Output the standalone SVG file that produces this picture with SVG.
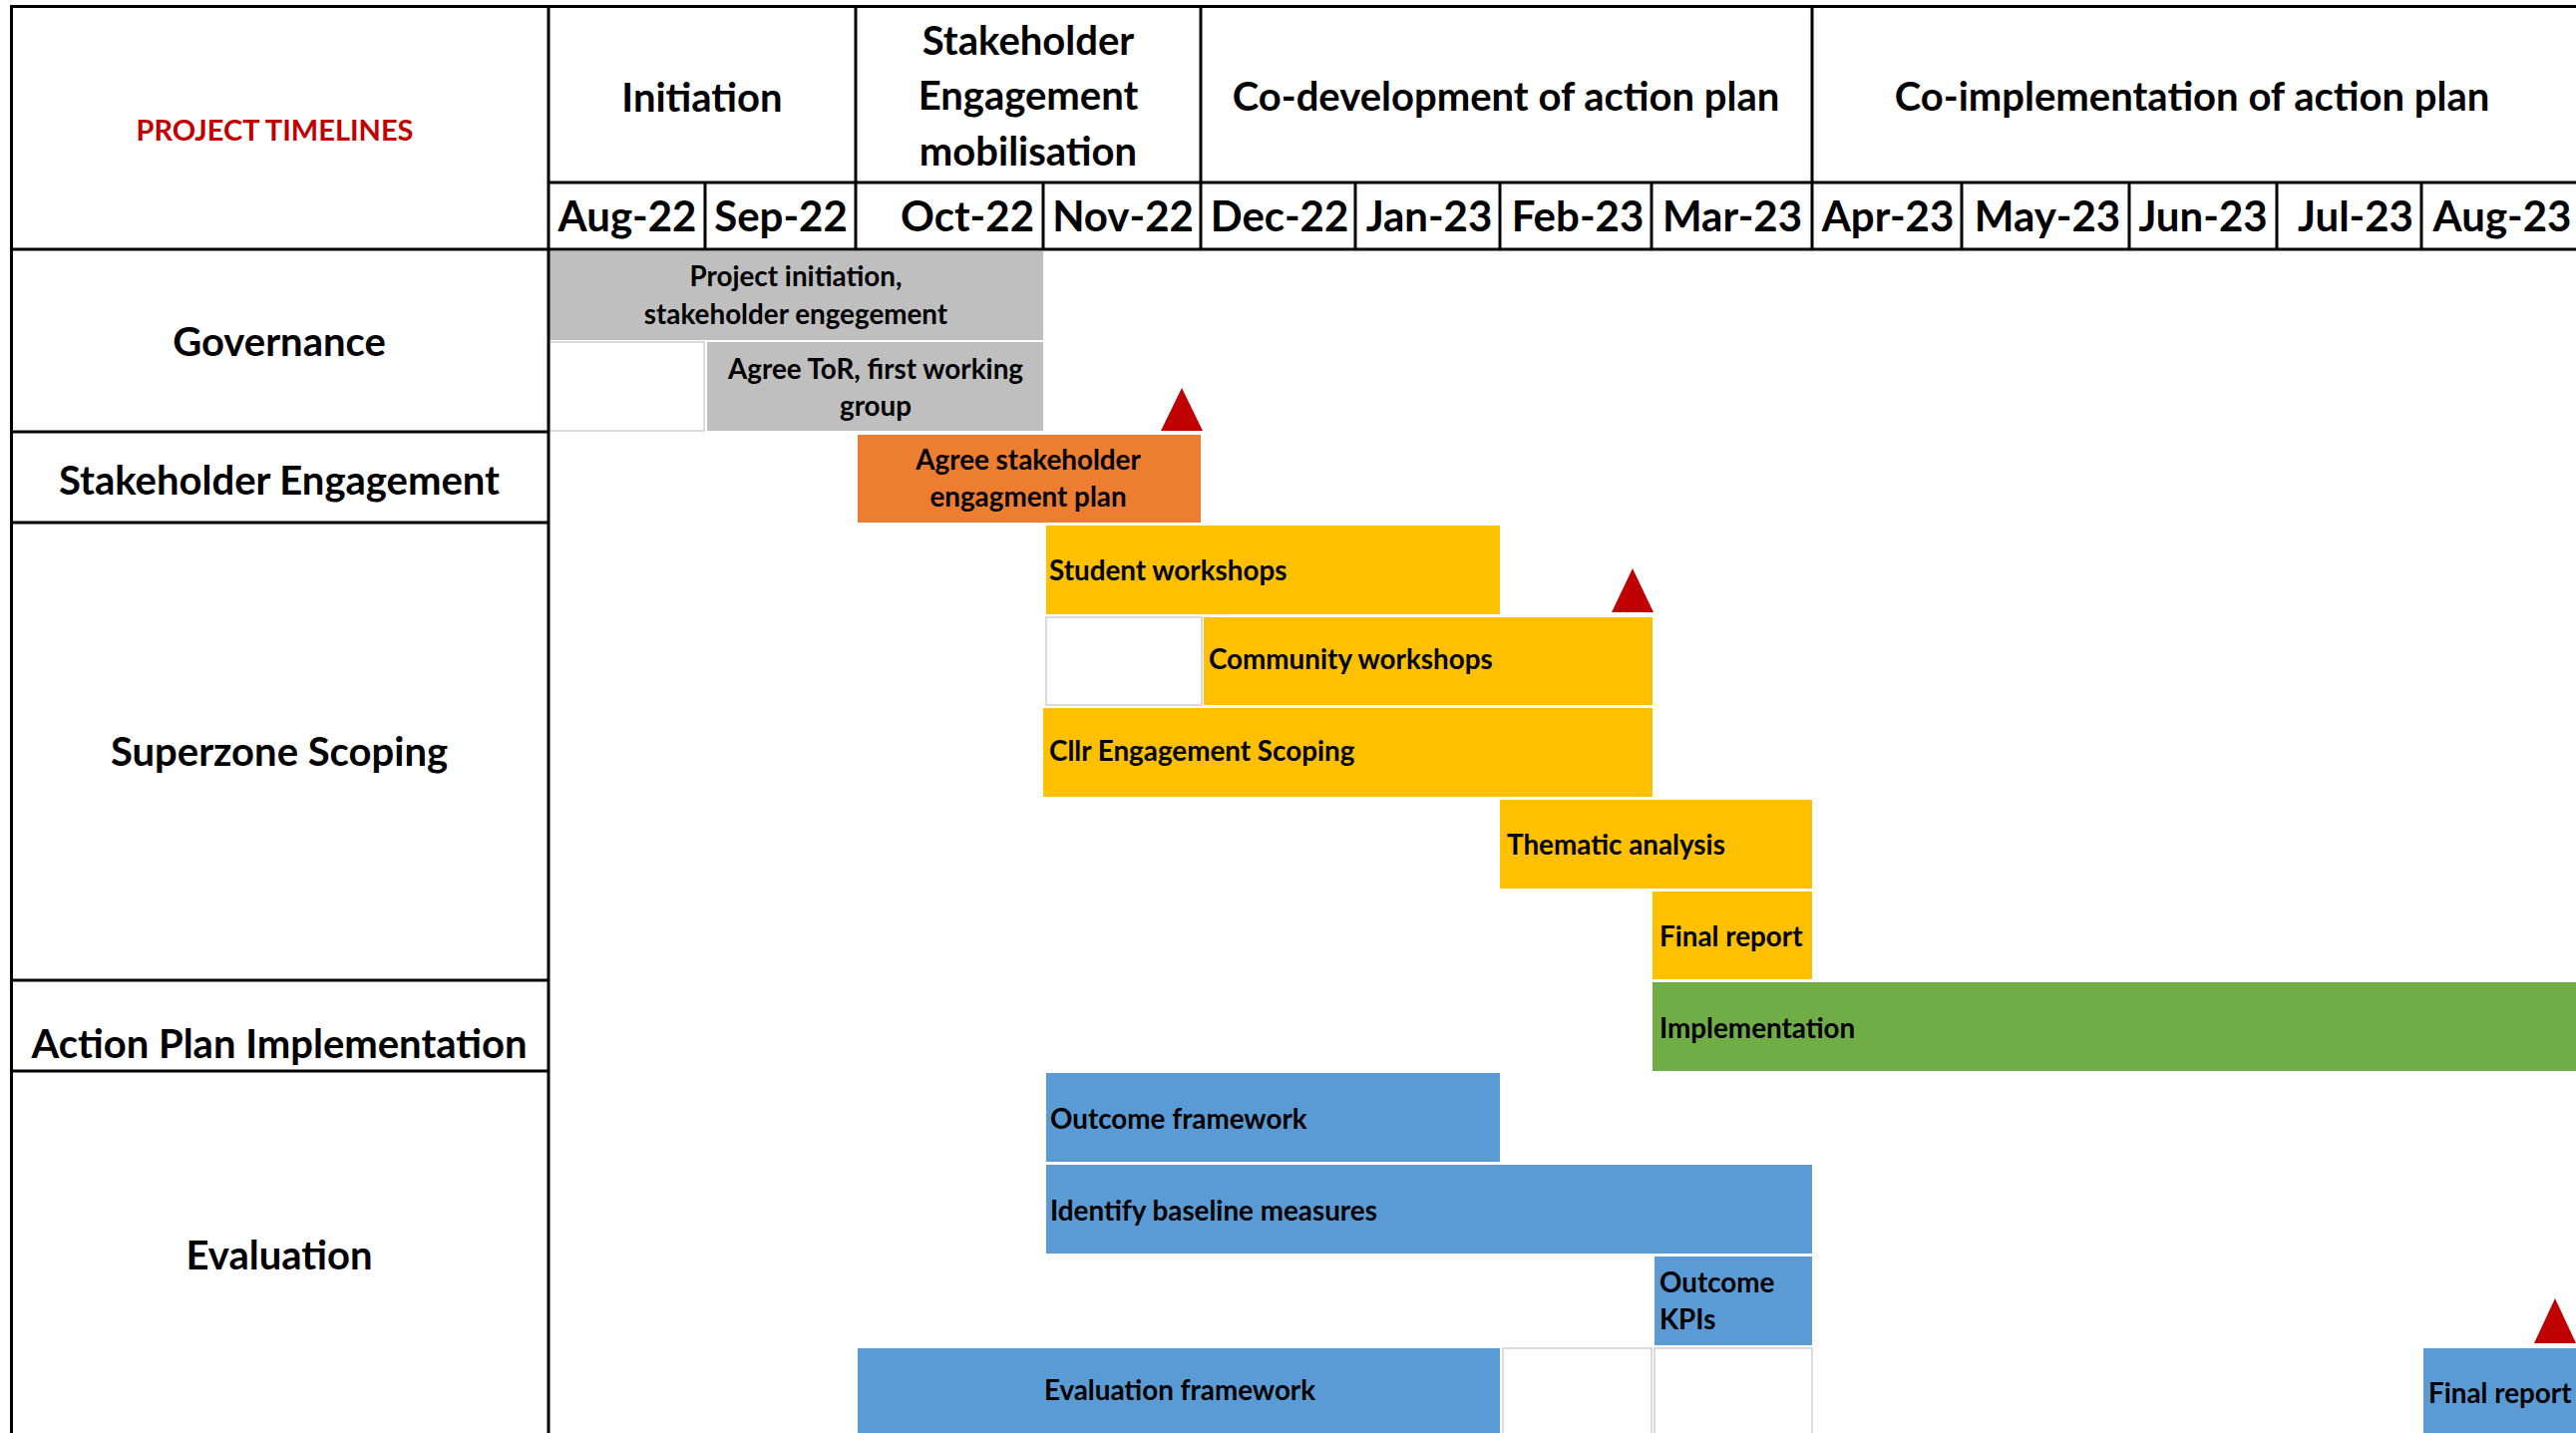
<svg xmlns="http://www.w3.org/2000/svg" width="2583" height="1437" viewBox="0 0 2583 1437">
<style>
text{font-family:Lato,"Liberation Sans",sans-serif;font-weight:bold;fill:#000}
.ph{font-size:40px;text-anchor:middle}
.mo{font-size:42px;text-anchor:middle}
.rl{font-size:40px;text-anchor:middle}
.bl{font-size:27.8px}
.bc{font-size:27.8px;text-anchor:middle}
.ttl{font-size:29px;text-anchor:middle;fill:#C00000}
.grid line{stroke:#000;stroke-width:3}
.gray{fill:#BFBFBF}.orange{fill:#ED7D31}.yellow{fill:#FFC000}.green{fill:#70AD47}.blue{fill:#5B9BD5}
.empty{fill:#fff;stroke:#D0D0D0;stroke-width:1.5}
.ms{fill:#C00000}
</style>
<rect width="2583" height="1437" fill="#fff"/>

<!-- empty cells -->
<g id="empty-cells">
<rect class="empty" x="551" y="343" width="155" height="89"/>
<rect class="empty" x="1049" y="619" width="156" height="88"/>
<rect class="empty" x="1507" y="1352" width="149" height="90"/>
<rect class="empty" x="1659" y="1352" width="158" height="90"/>
</g>

<!-- bars -->
<g id="bar-project-initiation"><rect class="gray" x="551" y="252" width="495" height="89"/>
<text class="bc" x="798" y="287">Project initiation,</text><text class="bc" x="798" y="325">stakeholder engegement</text></g>
<g id="bar-agree-tor"><rect class="gray" x="709" y="343" width="337" height="89"/>
<text class="bc" x="878" y="380">Agree ToR, first working</text><text class="bc" x="878" y="417">group</text></g>
<g id="bar-agree-stakeholder"><rect class="orange" x="860" y="436" width="344" height="88"/>
<text class="bc" x="1031" y="471">Agree stakeholder</text><text class="bc" x="1031" y="508">engagment plan</text></g>
<g id="bar-student"><rect class="yellow" x="1049" y="527" width="455" height="89"/>
<text class="bl" x="1052" y="582">Student workshops</text></g>
<g id="bar-community"><rect class="yellow" x="1207" y="619" width="450" height="88"/>
<text class="bl" x="1212" y="671">Community workshops</text></g>
<g id="bar-cllr"><rect class="yellow" x="1046" y="710" width="611" height="89"/>
<text class="bl" x="1052" y="763">Cllr Engagement Scoping</text></g>
<g id="bar-thematic"><rect class="yellow" x="1504" y="802" width="313" height="89"/>
<text class="bl" x="1511" y="857">Thematic analysis</text></g>
<g id="bar-final-report-scoping"><rect class="yellow" x="1657" y="894" width="160" height="88"/>
<text class="bl" x="1664" y="949">Final report</text></g>
<g id="bar-implementation"><rect class="green" x="1657" y="985" width="926" height="89"/>
<text class="bl" x="1664" y="1041">Implementation</text></g>
<g id="bar-outcome-framework"><rect class="blue" x="1049" y="1076" width="455" height="89"/>
<text class="bl" x="1053" y="1132">Outcome framework</text></g>
<g id="bar-baseline"><rect class="blue" x="1049" y="1168" width="768" height="89"/>
<text class="bl" x="1053" y="1224">Identify baseline measures</text></g>
<g id="bar-kpis"><rect class="blue" x="1659" y="1260" width="158" height="89"/>
<text class="bl" x="1664" y="1296">Outcome</text><text class="bl" x="1664" y="1333">KPIs</text></g>
<g id="bar-evaluation-framework"><rect class="blue" x="860" y="1352" width="644" height="90"/>
<text class="bc" x="1183" y="1404">Evaluation framework</text></g>
<g id="bar-final-report-eval"><rect class="blue" x="2430" y="1352" width="153" height="90"/>
<text class="bl" x="2435" y="1407">Final report</text></g>

<!-- milestones -->
<g id="milestone-1"><polygon class="ms" points="1164,432 1206,432 1185,389"/></g>
<g id="milestone-2"><polygon class="ms" points="1616,614 1658,614 1637,570"/></g>
<g id="milestone-3"><polygon class="ms" points="2541,1347 2583,1347 2562,1302"/></g>

<!-- grid lines -->
<g id="grid" class="grid">
<line x1="10" y1="6.5" x2="2583" y2="6.5"/>
<line x1="11.5" y1="5" x2="11.5" y2="1437"/>
<line x1="550" y1="5" x2="550" y2="1437"/>
<line x1="550" y1="183" x2="2583" y2="183"/>
<line x1="10" y1="250" x2="2583" y2="250"/>
<line x1="10" y1="433" x2="550" y2="433"/>
<line x1="10" y1="524" x2="550" y2="524"/>
<line x1="10" y1="983" x2="550" y2="983"/>
<line x1="10" y1="1074" x2="550" y2="1074"/>
<line x1="858" y1="5" x2="858" y2="250"/>
<line x1="1204" y1="5" x2="1204" y2="250"/>
<line x1="1817" y1="5" x2="1817" y2="250"/>
<line x1="707" y1="183" x2="707" y2="250"/>
<line x1="1046" y1="183" x2="1046" y2="250"/>
<line x1="1359" y1="183" x2="1359" y2="250"/>
<line x1="1504" y1="183" x2="1504" y2="250"/>
<line x1="1656" y1="183" x2="1656" y2="250"/>
<line x1="1967" y1="183" x2="1967" y2="250"/>
<line x1="2135" y1="183" x2="2135" y2="250"/>
<line x1="2283" y1="183" x2="2283" y2="250"/>
<line x1="2428" y1="183" x2="2428" y2="250"/>
</g>

<!-- header -->
<g id="title"><text class="ttl" x="275.5" y="141">PROJECT TIMELINES</text></g>
<g id="phase-initiation"><text class="ph" x="704" y="112">Initiation</text></g>
<g id="phase-stakeholder"><text class="ph" x="1031" y="55">Stakeholder</text><text class="ph" x="1031" y="110">Engagement</text><text class="ph" x="1031" y="166">mobilisation</text></g>
<g id="phase-codevelopment"><text class="ph" x="1510" y="111">Co-development of action plan</text></g>
<g id="phase-coimplementation"><text class="ph" x="2198" y="111">Co-implementation of action plan</text></g>
<g id="months">
<text class="mo" x="629" y="232">Aug-22</text>
<text class="mo" x="783" y="232">Sep-22</text>
<text class="mo" x="1037" y="232" style="text-anchor:end">Oct-22</text>
<text class="mo" x="1126" y="232">Nov-22</text>
<text class="mo" x="1283" y="232">Dec-22</text>
<text class="mo" x="1433" y="232">Jan-23</text>
<text class="mo" x="1582" y="232">Feb-23</text>
<text class="mo" x="1737" y="232">Mar-23</text>
<text class="mo" x="1893" y="232">Apr-23</text>
<text class="mo" x="2053" y="232">May-23</text>
<text class="mo" x="2209" y="232">Jun-23</text>
<text class="mo" x="2362" y="232">Jul-23</text>
<text class="mo" x="2509" y="232">Aug-23</text>
</g>

<!-- row labels -->
<g id="row-governance"><text class="rl" x="280" y="357">Governance</text></g>
<g id="row-stakeholder"><text class="rl" x="280" y="496">Stakeholder Engagement</text></g>
<g id="row-superzone"><text class="rl" x="280" y="768">Superzone Scoping</text></g>
<g id="row-action-plan"><text class="rl" x="280" y="1061">Action Plan Implementation</text></g>
<g id="row-evaluation"><text class="rl" x="280" y="1273">Evaluation</text></g>
</svg>
